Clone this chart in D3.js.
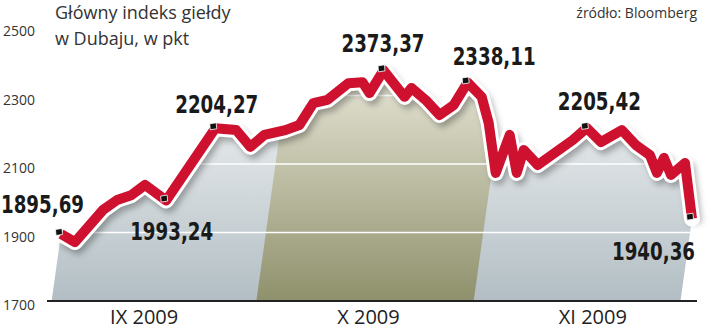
<!DOCTYPE html>
<html>
<head>
<meta charset="utf-8">
<script src="https://cdn.jsdelivr.net/npm/d3@7"></script>
<style>
  body { margin: 0; background: #fff; }
  #container { width: 720px; height: 329px; }
  .tick-label { font-family: 'Open Sans', sans-serif; font-size: 14px; fill: #333; }
  .month-label { font-family: 'Open Sans', sans-serif; font-size: 20px; fill: #222; }
  .title { font-family: 'Open Sans', sans-serif; font-size: 18px; fill: #333; }
  .source { font-family: 'Open Sans', sans-serif; font-size: 14px; fill: #333; }
  .value-label { font-family: 'DejaVu Sans Condensed', 'Liberation Sans Narrow', sans-serif; font-weight: bold; font-size: 24px; fill: #1a1a1a; }
</style>
</head>
<body>
<div id="container"></div>
<script>
// index values (DFM, Sep - Nov 2009)
var dates = ['2009-09-01', '2009-09-03', '2009-09-07', '2009-09-09', '2009-09-11', '2009-09-13',
  '2009-09-16', '2009-09-23', '2009-09-26', '2009-09-28', '2009-09-30', '2009-10-03', '2009-10-05',
  '2009-10-07', '2009-10-09', '2009-10-12', '2009-10-14', '2009-10-15', '2009-10-17', '2009-10-20',
  '2009-10-21', '2009-10-23', '2009-10-25', '2009-10-27', '2009-10-29', '2009-10-31', '2009-11-01',
  '2009-11-02', '2009-11-04', '2009-11-05', '2009-11-06', '2009-11-08', '2009-11-11', '2009-11-13',
  '2009-11-15', '2009-11-17', '2009-11-20', '2009-11-22', '2009-11-24', '2009-11-25', '2009-11-26',
  '2009-11-27', '2009-11-29', '2009-11-30'];
var values = [1895.69, 1872, 1966, 1995, 2009, 2039,
  1993.24, 2204.27, 2199, 2150, 2185, 2199, 2214,
  2278, 2287, 2336, 2339, 2307, 2373.37, 2296,
  2322, 2287, 2243, 2272, 2338.11, 2296, 2220,
  2074, 2185, 2074, 2141, 2097, 2141, 2170,
  2205.42, 2164, 2199, 2155, 2126, 2074, 2118,
  2068, 2103, 1940.36];

var calloutDates = ['2009-09-01', '2009-09-16', '2009-09-23', '2009-10-17', '2009-10-29', '2009-11-15', '2009-11-30'];
var calloutTexts = ['1895,69', '1993,24', '2204,27', '2373,37', '2338,11', '2205,42', '1940,36'];

var yTicks = [1700, 1900, 2100, 2300, 2500];
var gridTicks = [1900, 2100, 2300];

var monthNames = ['IX 2009', 'X 2009', 'XI 2009'];
var monthLabelDates = ['2009-09-15', '2009-10-17', '2009-11-18'];
var bandStart = '2009-10-01', bandEnd = '2009-11-01';

var parseDate = d3.timeParse('%Y-%m-%d');
var data = dates.map(function(d, i) { return { date: parseDate(d), value: values[i] }; });

var svg = d3.select('#container').append('svg')
  .attr('width', 720)
  .attr('height', 329);

var baseY = 301, slope = 0.14, depth = 15;

var x = d3.scaleTime()
  .domain([parseDate('2009-09-01'), parseDate('2009-11-30')])
  .range([61, 692]);

var y = d3.scaleLinear()
  .domain([1700, 2500])
  .range([baseY, 27]);

var defs = svg.append('defs');

var areaGrad = defs.append('linearGradient')
  .attr('id', 'areaGrad')
  .attr('gradientUnits', 'userSpaceOnUse')
  .attr('x1', 0).attr('x2', 0).attr('y1', 70).attr('y2', baseY);
areaGrad.append('stop').attr('offset', 0).attr('stop-color', '#f5f6f6');
areaGrad.append('stop').attr('offset', 1).attr('stop-color', '#b2bec4');

var bandGrad = defs.append('linearGradient')
  .attr('id', 'bandGrad')
  .attr('gradientUnits', 'userSpaceOnUse')
  .attr('x1', 0).attr('x2', 0).attr('y1', 70).attr('y2', baseY);
bandGrad.append('stop').attr('offset', 0).attr('stop-color', '#e6e5d6');
bandGrad.append('stop').attr('offset', 1).attr('stop-color', '#8f916c');

var shadow = defs.append('filter')
  .attr('id', 'shadow')
  .attr('x', '-10%').attr('y', '-20%').attr('width', '120%').attr('height', '140%');
shadow.append('feGaussianBlur').attr('stdDeviation', 3);

// slanted side: where a vertical edge through (px, py) meets the baseline
var slant = function(px, py) { return px - slope * (baseY - py); };

var line = d3.line()
  .x(function(d) { return x(d.date); })
  .y(function(d) { return y(d.value); })
  .curve(d3.curveLinear);

var first = data[0], last = data[data.length - 1];
var areaPoints = data.map(function(d) { return [x(d.date), y(d.value)]; });
areaPoints.push([slant(x(last.date), y(last.value)), baseY]);
areaPoints.push([slant(x(first.date), y(first.value)), baseY]);

defs.append('clipPath')
  .attr('id', 'areaClip')
  .append('polygon')
  .attr('points', areaPoints.join(' '));

var plot = svg.append('g');

plot.append('polygon')
  .attr('points', areaPoints.join(' '))
  .attr('fill', 'url(#areaGrad)');

// october band, a parallelogram leaning like the side edges
var b0 = x(parseDate(bandStart)) - depth, b1 = x(parseDate(bandEnd)) - depth;
var bandPoints = [[b0, baseY], [b1, baseY], [b1 + slope * baseY, 0], [b0 + slope * baseY, 0]];
plot.append('polygon')
  .attr('points', bandPoints.join(' '))
  .attr('fill', 'url(#bandGrad)')
  .attr('clip-path', 'url(#areaClip)');

plot.selectAll('.grid')
  .data(gridTicks)
  .enter()
  .append('line')
  .attr('class', 'grid')
  .attr('x1', 40).attr('x2', 700)
  .attr('y1', function(d) { return y(d); })
  .attr('y2', function(d) { return y(d); })
  .attr('stroke', '#fff')
  .attr('stroke-width', 1.5)
  .attr('clip-path', 'url(#areaClip)');

svg.append('line')
  .attr('x1', 47).attr('x2', 697)
  .attr('y1', baseY).attr('y2', baseY)
  .attr('stroke', '#222')
  .attr('stroke-width', 2);

svg.selectAll('.tick-label')
  .data(yTicks)
  .enter()
  .append('text')
  .attr('class', 'tick-label')
  .attr('x', 3)
  .attr('y', function(d) { return y(d) + 9; })
  .text(function(d) { return d; });

svg.selectAll('.month-label')
  .data(monthNames)
  .enter()
  .append('text')
  .attr('class', 'month-label')
  .attr('text-anchor', 'middle')
  .attr('x', function(d, i) { return x(parseDate(monthLabelDates[i])) - depth; })
  .attr('y', 324)
  .text(function(d) { return d; });

// the thick red line: soft shadow, white rim, red core
svg.append('path')
  .datum(data)
  .attr('d', line)
  .attr('transform', 'translate(3,5)')
  .attr('fill', 'none')
  .attr('stroke', '#000')
  .attr('stroke-opacity', 0.3)
  .attr('stroke-width', 14)
  .attr('stroke-linejoin', 'round')
  .attr('filter', 'url(#shadow)');

svg.append('path')
  .datum(data)
  .attr('d', line)
  .attr('fill', 'none')
  .attr('stroke', '#fff')
  .attr('stroke-width', 16)
  .attr('stroke-linejoin', 'round')
  .attr('stroke-linecap', 'round');

svg.append('path')
  .datum(data)
  .attr('d', line)
  .attr('fill', 'none')
  .attr('stroke', '#cf1130')
  .attr('stroke-width', 10)
  .attr('stroke-linejoin', 'round')
  .attr('stroke-linecap', 'butt');

var callouts = calloutDates.map(function(d, i) {
  var dt = parseDate(d);
  var point = data.filter(function(p) { return +p.date == +dt; })[0];
  return { date: dt, value: point.value, text: calloutTexts[i] };
});

// markers sit on the upper left rim of the line
svg.selectAll('.marker')
  .data(callouts)
  .enter()
  .append('path')
  .attr('class', 'marker')
  .attr('transform', function(d) { return 'translate(' + (x(d.date) - 2) + ',' + (y(d.value) - 2) + ')'; })
  .attr('d', 'M-3.5,-2.5L3,-3.5L3.5,2.5L-3,3.5Z')
  .attr('fill', '#111')
  .attr('stroke', '#fff')
  .attr('stroke-width', 0.8);

// label offsets from the marked point: left edge and baseline
var labelDx = [-60, -36, -40, -42, -15, -29, -80];
var labelDy = [-21, 39, -15, -18, -17, -18, 41];

svg.selectAll('.value-label')
  .data(callouts)
  .enter()
  .append('text')
  .attr('class', 'value-label')
  .attr('x', function(d, i) { return x(d.date) + labelDx[i]; })
  .attr('y', function(d, i) { return y(d.value) + labelDy[i]; })
  .attr('textLength', 83)
  .attr('lengthAdjust', 'spacingAndGlyphs')
  .text(function(d) { return d.text; });

svg.append('text')
  .attr('class', 'title')
  .attr('x', 55)
  .attr('y', 19)
  .text('Główny indeks giełdy');
svg.append('text')
  .attr('class', 'title')
  .attr('x', 55)
  .attr('y', 45)
  .text('w Dubaju, w pkt');

svg.append('text')
  .attr('class', 'source')
  .attr('x', 697)
  .attr('y', 18)
  .attr('text-anchor', 'end')
  .text('źródło: Bloomberg');
</script>
</body>
</html>
